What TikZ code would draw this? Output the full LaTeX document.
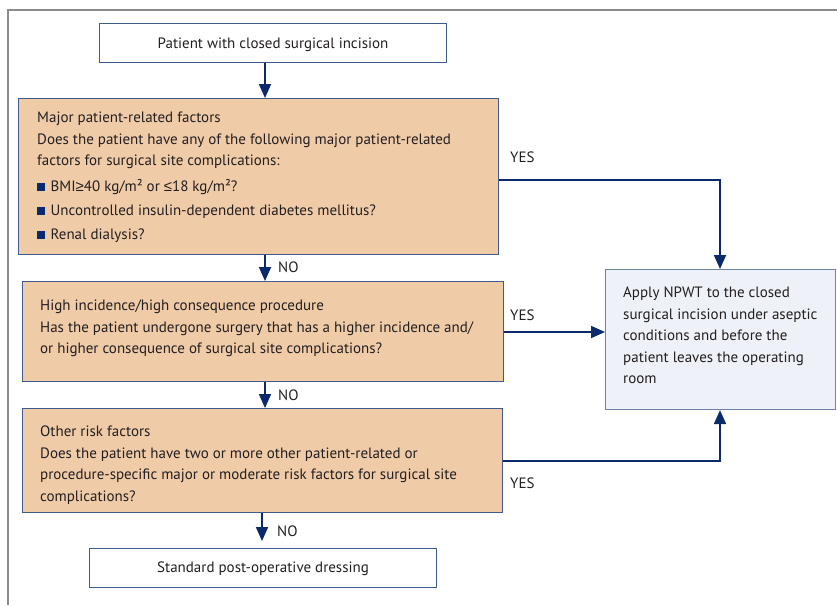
\documentclass[tikz,border=0pt]{standalone}
\usepackage{fontspec}
\setmainfont{PT Sans}
\newfontfamily\symf{Liberation Sans}
\usetikzlibrary{arrows.meta}
\definecolor{peach}{HTML}{F0CBA8}
\definecolor{navy}{HTML}{0B2A6B}
\definecolor{bord}{HTML}{3F5A8C}
\definecolor{pale}{HTML}{EEF1F7}
\definecolor{pborder}{HTML}{6F82A6}
\definecolor{frame}{HTML}{8C8C8C}
\definecolor{txt}{HTML}{231F20}
\tikzset{
  whitebox/.style={draw=bord, line width=1.1pt, fill=white, inner sep=0pt, anchor=north west},
  orbox/.style={draw=bord, line width=1.1pt, fill=peach, inner sep=0pt, anchor=north west},
  npbox/.style={draw=pborder, line width=1.1pt, fill=pale, inner sep=0pt, anchor=north west},
  body/.style={inner sep=0pt, anchor=north west, align=left, text=txt, font=\fontsize{15}{21.5}\selectfont},
  lbl/.style={inner sep=0pt, anchor=west, text=txt, font=\fontsize{15}{17}\selectfont},
  arr/.style={draw=navy, line width=1.8pt, -{Triangle[length=14pt,width=12pt]}},
}
\newcommand{\bul}{{\color{navy}\rule[0.5pt]{7.5pt}{7.5pt}}\hspace{6pt}}
\begin{document}
\begin{tikzpicture}[x=1pt,y=-1pt]
\useasboundingbox (0,0) rectangle (837,605);
% outer frame
\draw[frame, line width=1.5pt] (837,10) -- (8,10) -- (8,605);
% boxes
\node[whitebox, minimum width=347pt, minimum height=39pt] (b1) at (99,23) {};
\node[lbl, anchor=center] (t1) at ([yshift=-2pt]b1.center) {Patient with closed surgical incision};
\node[orbox, minimum width=480pt, minimum height=156pt] (b2) at (18,98) {};
\node[body] (t2) at (37,112) {Major patient-related factors\\
Does the patient have any of the following major patient-related\\
factors for surgical site complications:\\[4pt]
\bul BMI{\symf ≥}40 kg/m² or {\symf ≤}18 kg/m²?\\[2.5pt]
\bul Uncontrolled insulin-dependent diabetes mellitus?\\[2.5pt]
\bul Renal dialysis?};
\node[orbox, minimum width=481pt, minimum height=100pt] (b3) at (22,281) {};
\node[body] (t3) at (40,300) {High incidence/high consequence procedure\\
Has the patient undergone surgery that has a higher incidence and/\\
or higher consequence of surgical site complications?};
\node[orbox, minimum width=480pt, minimum height=104pt] (b4) at (22,408) {};
\node[body] (t4) at (40,426) {Other risk factors\\
Does the patient have two or more other patient-related or\\
procedure-specific major or moderate risk factors for surgical site\\
complications?};
\node[whitebox, minimum width=347pt, minimum height=39pt] (b5) at (89,548) {};
\node[lbl, anchor=center] (t5) at ([yshift=-1pt]b5.center) {Standard post-operative dressing};
\node[npbox, minimum width=230pt, minimum height=140pt] (np) at (605,269) {};
\node[body] (tnp) at (623,287) {Apply NPWT to the closed\\
surgical incision under aseptic\\
conditions and before the\\
patient leaves the operating\\
room};
% helper coordinates
\coordinate (v1) at (265,0);
\coordinate (v2) at (265,0);
\coordinate (v3) at (262,0);
\coordinate (y1) at (720,180);
\coordinate (y2) at (0,332);
\coordinate (y3) at (720,461);
% connectors
\draw[arr] (b1.south -| v1) -- (b2.north -| v1);
\draw[arr] (b2.south -| v1) -- (b3.north -| v1);
\draw[arr] (b3.south -| v2) -- (b4.north -| v2);
\draw[arr] (b4.south -| v3) -- ([yshift=7pt]b5.north -| v3);
\draw[arr] (b2.east |- y1) -| (np.north -| y1);
\draw[arr] (b3.east |- y2) -- (np.west |- y2);
\draw[arr] (b4.east |- y3) -| (np.south -| y3);
% labels
\node[lbl] (no1) at (278,267) {NO};
\node[lbl] (no2) at (278,395) {NO};
\node[lbl] (no3) at (277,531) {NO};
\node[lbl] (yes1) at (510,157) {YES};
\node[lbl] (yes2) at (510,315) {YES};
\node[lbl] (yes3) at (510,483) {YES};
\end{tikzpicture}
\end{document}
